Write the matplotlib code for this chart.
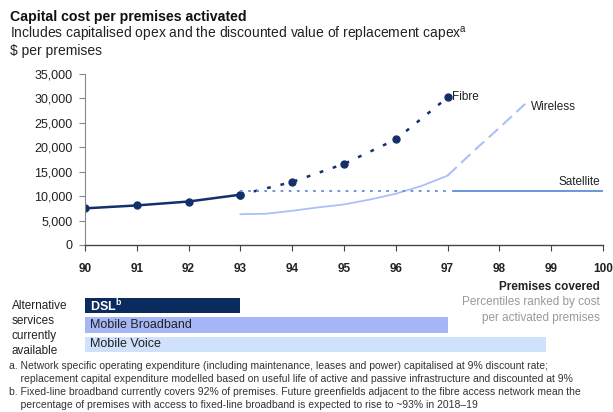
import matplotlib.pyplot as plt

plt.rcParams['font.family'] = ['Liberation Sans', 'DejaVu Sans']

# Fibre cost per premises at each percentile
fibre_x = [90, 91, 92, 93, 94, 95, 96, 97]
fibre_y = [7500, 8100, 8900, 10300, 12900, 16600, 21600, 30200]

# Wireless (solid part, then dashed part)
wireless_x = [93, 93.5, 94, 94.5, 95, 95.5, 96, 96.5, 97]
wireless_y = [6300, 6400, 7000, 7700, 8300, 9300, 10500, 12100, 14200]
wireless_dash_x = [97, 97.5, 98, 98.5]
wireless_dash_y = [14200, 19200, 24000, 28900]

satellite_y = 11000

xticks = [90, 91, 92, 93, 94, 95, 96, 97, 98, 99, 100]
yticks = [0, 5000, 10000, 15000, 20000, 25000, 30000, 35000]

services = ['DSL$^{\\mathregular{b}}$', 'Mobile Broadband', 'Mobile Voice']
service_end = [93, 97, 98.9]
service_colors = ['#0b2a5e', '#a6b7f7', '#d0e1fb']
service_text = ['white', '#222222', '#222222']

navy = '#13306a'
wl_blue = '#a9c1f7'
sat_blue = '#5d8fd8'

fig = plt.figure(figsize=(6.13, 4.12), dpi=100)
W, H = 613, 412

ax = fig.add_axes([85 / W, 1 - 245 / H, 518 / W, 171 / H])
ax.plot(fibre_x[:4], fibre_y[:4], color=navy, lw=1.8, marker='o', ms=5)
ax.plot(fibre_x[3:], fibre_y[3:], color=navy, lw=1.8, ls=(0, (1.5, 4)), marker='o', ms=5)
ax.plot(wireless_x, wireless_y, color=wl_blue, lw=1.3)
ax.plot(wireless_dash_x, wireless_dash_y, color=wl_blue, lw=1.5, ls=(0, (6, 3)))
ax.plot([93, 97], [satellite_y, satellite_y], color=sat_blue, lw=1.3, ls=(0, (1.5, 3)))
ax.plot([97.1, 100], [satellite_y, satellite_y], color=sat_blue, lw=1.3)

ax.text(97.08, fibre_y[-1], 'Fibre', fontsize=8.5, va='center', ha='left', color='#222222')
ax.text(98.6, 28300, 'Wireless', fontsize=8.5, va='center', ha='left', color='#222222')
ax.text(99.95, 12800, 'Satellite', fontsize=8.5, va='center', ha='right', color='#222222')

ax.set_xlim(90, 100)
ax.set_ylim(0, 35000)
ax.set_xticks(xticks)
ax.set_xticklabels([str(t) for t in xticks], fontsize=8.5, fontweight='bold', color='#222222')
ax.set_yticks(yticks)
ax.set_yticklabels([f'{t:,}' for t in yticks], fontsize=9, color='#222222')
ax.tick_params(axis='x', length=4, pad=9, color='#444444')
ax.tick_params(axis='y', length=4, pad=5, color='#888888')
for s in ['top', 'right']:
    ax.spines[s].set_visible(False)
ax.spines['left'].set_color('#888888')
ax.spines['bottom'].set_color('#444444')
ax.spines['bottom'].set_linewidth(1.0)

# alternative services bars
ax2 = fig.add_axes([85 / W, 1 - 354 / H, 518 / W, 58 / H])
ax2.set_xlim(90, 100)
ax2.set_ylim(3, 0)
for i, (name, end, c, tc) in enumerate(zip(services, service_end, service_colors, service_text)):
    ax2.barh(i + 0.5, end - 90, left=90, height=0.78, color=c)
    ax2.text(90.1, i + 0.5, name, fontsize=9, va='center', ha='left', color=tc,
             fontweight='bold' if i == 0 else 'normal')
ax2.axis('off')

for k, word in enumerate(['Alternative', 'services', 'currently', 'available']):
    fig.text(12 / W, 1 - (306 + 15 * k) / H, word, fontsize=8.5,
             va='center', ha='left', color='#222222')
fig.text(600 / W, 1 - 287 / H, 'Premises covered', fontsize=8.5, fontweight='bold',
         ha='right', va='center', color='#222222')
fig.text(600 / W, 1 - 302 / H, 'Percentiles ranked by cost', fontsize=8.5,
         ha='right', va='center', color='#999999')
fig.text(600 / W, 1 - 318 / H, 'per activated premises', fontsize=8.5,
         ha='right', va='center', color='#999999')

fig.text(10 / W, 1 - 17 / H, 'Capital cost per premises activated', fontsize=10.2,
         fontweight='bold', va='center', color='#111111')
fig.text(10 / W, 1 - 34 / H, 'Includes capitalised opex and the discounted value of replacement capex$^{\\mathregular{a}}$',
         fontsize=10, va='center', color='#222222')
fig.text(10 / W, 1 - 51 / H, '$ per premises', fontsize=10, va='center', color='#222222')

notes = [
    'a. Network specific operating expenditure (including maintenance, leases and power) capitalised at 9% discount rate;',
    '    replacement capital expenditure modelled based on useful life of active and passive infrastructure and discounted at 9%',
    'b. Fixed-line broadband currently covers 92% of premises. Future greenfields adjacent to the fibre access network mean the',
    '    percentage of premises with access to fixed-line broadband is expected to rise to ~93% in 2018\u201319',
]
for k, line in enumerate(notes):
    fig.text(9 / W, 1 - (366 + 13.1 * k) / H, line, fontsize=7.5, va='center', color='#333333')

fig.savefig('out.png', dpi=100)
